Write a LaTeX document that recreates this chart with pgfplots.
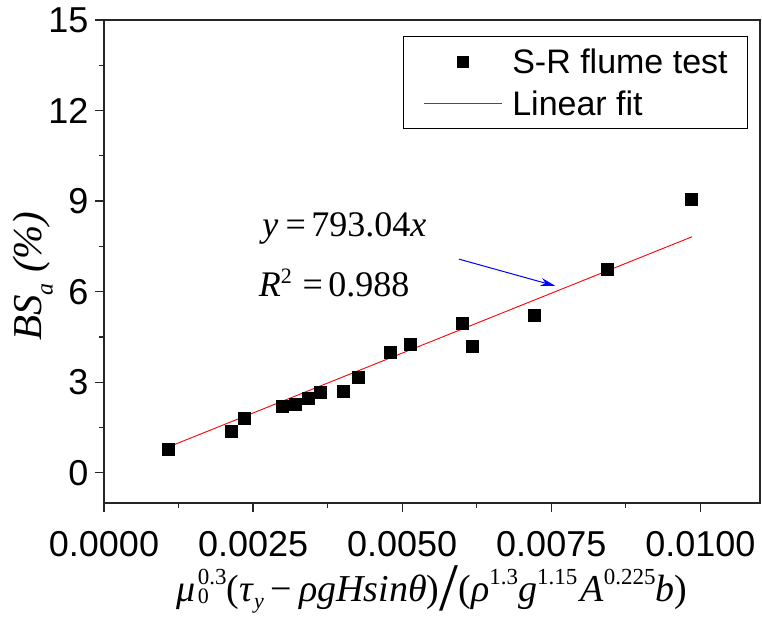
\documentclass[border=0pt]{standalone}
\usepackage{fontspec}
\setmainfont{Liberation Sans}
\newfontfamily\tnr{Liberation Serif}
\usepackage{pgfplots}
\pgfplotsset{compat=1.18}
\usetikzlibrary{arrows.meta}
\newcommand{\sps}[1]{\raisebox{17pt}{\fontsize{23}{23}\selectfont #1}}
\newcommand{\spr}[1]{\raisebox{13pt}{\fontsize{22}{22}\selectfont #1}}
\newcommand{\sbs}[1]{\raisebox{-7pt}{\fontsize{22}{22}\selectfont #1}}
\newcommand{\sbz}[1]{\raisebox{-2pt}{\fontsize{22}{22}\selectfont #1}}
\newcommand{\sba}[1]{\raisebox{-11pt}{\fontsize{24}{24}\selectfont #1}}
\pgfplotstableread{
x y
0.00107 0.77
0.00213 1.37
0.00235 1.81
0.00298 2.20
0.00321 2.27
0.00343 2.48
0.00362 2.67
0.00401 2.69
0.00426 3.18
0.00480 3.98
0.00514 4.27
0.00601 4.97
0.00617 4.19
0.00721 5.23
0.00843 6.74
0.00985 9.06
}\datatable
\pgfplotsset{
  markimg/.style={legend image code/.code={\path[draw=none] (0pt,0pt) -- (89pt,0pt); \fill[black, draw=none] (36pt,-6pt) rectangle (48pt,6pt);}},
  lineimg/.style={legend image code/.code={\path[draw=none] (0pt,0pt) -- (89pt,0pt); \draw[red, line width=0.9pt] (3pt,0pt) -- (81pt,0pt);}},
}
\begin{document}
\begin{tikzpicture}
\begin{axis}[
  width=656pt, height=483pt, scale only axis,
  xmin=0, xmax=0.011, ymin=-1, ymax=15,
  xtick={0,0.0025,0.005,0.0075,0.01},
  ytick={0,3,6,9,12,15},
  minor x tick num=1, minor y tick num=1,
  tick align=outside, xtick pos=bottom, ytick pos=left,
  major tick length=9pt, minor tick length=5pt,
  scaled x ticks=false,
  /pgf/number format/assume math mode=true,
  xticklabel={\pgfmathprintnumber[fixed,fixed zerofill,precision=4]{\tick}},
  tick label style={font=\fontsize{36}{42}\selectfont},
  xticklabel style={yshift=-16pt},
  yticklabel style={xshift=-3pt},
  axis line style={line width=1.3pt, black!85},
  every tick/.style={line width=1.3pt, black!85},
  xlabel={\tnr\textit{μ}\rlap{\hspace{2pt}\sbz{0}}\hspace{2pt}\sps{0.3}(\textit{τ}\sbs{\textit{y}}\hspace{7pt}−\hspace{7pt}\textit{ρgHsinθ})\raisebox{-9pt}{\fontsize{68}{68}\selectfont /}(\textit{ρ}\sps{1.3}\textit{g}\sps{1.15}\hspace{3pt}\textit{A}\sps{0.225}\textit{b})},
  xlabel style={font=\fontsize{38}{44}\selectfont, at={(axis description cs:0.5,-0.178)}, anchor=center},
  ylabel={\tnr\textit{BS}\sba{\textit{a}} \textit{(\%)}},
  ylabel style={font=\fontsize{41}{46}\selectfont, at={(axis description cs:-0.108,0.47)}, anchor=center},
  legend style={at={(axis description cs:0.982,0.967)}, anchor=north east,
    draw=black, line width=1pt, font=\fontsize{34}{40}\selectfont,
    inner xsep=18pt, inner ysep=10pt, row sep=12pt},
  legend cell align=left,
]
\addplot[only marks, mark=square*, mark size=6pt, black, markimg]
  table[x=x,y=y] {\datatable};
\addlegendentry{S-R flume test}
\addplot[red, line width=0.9pt, lineimg]
  coordinates {(0.00107,0.8486) (0.00986,7.8194)};
\addlegendentry{Linear fit}
\node[font=\tnr\fontsize{36}{40}\selectfont] at (axis cs:0.00403,8.1) {\textit{y}\hspace{0.2em}=\hspace{0.15em}793.04\textit{x}};
\node[font=\tnr\fontsize{36}{40}\selectfont] at (axis cs:0.00386,6.28) {\textit{R}\spr{2}\hspace{0.3em}=\hspace{0.15em}0.988};
\draw[blue, line width=1pt, -{Stealth[length=15pt,width=8pt]}] (axis cs:0.00595,7.08) -- (axis cs:0.00757,6.19);
\end{axis}
\pgfresetboundingbox
\path (current axis.south west) ++(-104pt,-127pt) rectangle ++(762pt,630pt);
\end{tikzpicture}
\end{document}
